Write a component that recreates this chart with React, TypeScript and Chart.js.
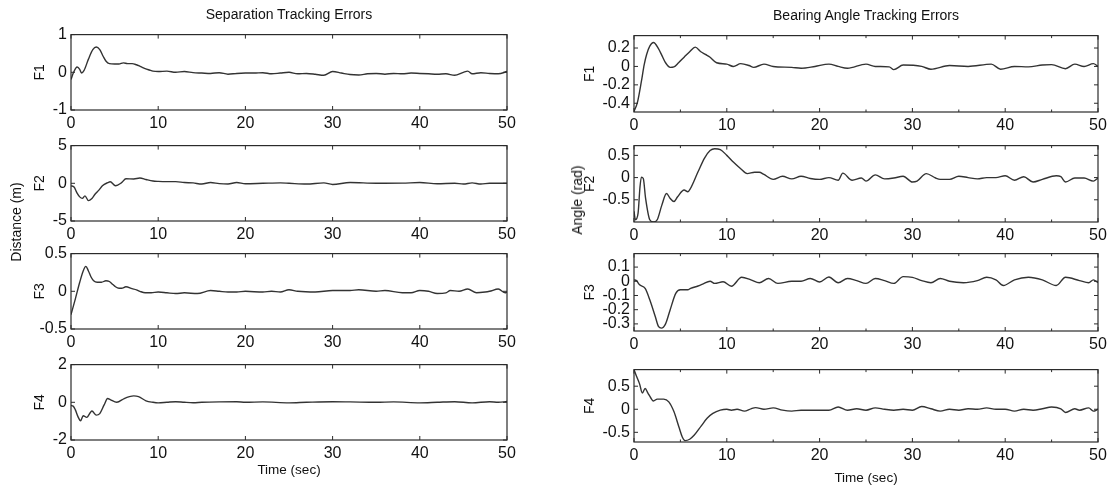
import React, { useEffect, useRef } from 'react';
import { Chart, registerables } from 'chart.js';

Chart.register(...registerables);

type Pt = [number, number];

const FONT = "'Liberation Sans', Arial, Helvetica, sans-serif";

// time axis ticks
const timeTicks = [0, 10, 20, 30, 40, 50];
const minorTimeTicks = [5, 15, 25, 35, 45];

// Separation tracking errors [time, value]
const sepF1: Pt[] = [[0,-0.19],[0.3,0.0],[0.7,0.14],[1.0,0.08],[1.2,-0.02],[1.5,0.05],[2.0,0.35],[2.5,0.6],[2.9,0.67],[3.3,0.6],[3.7,0.42],[4.0,0.3],[4.4,0.23],[5.0,0.22],[5.5,0.22],[6.0,0.25],[6.5,0.23],[7.0,0.23],[7.5,0.2],[8.0,0.15],[8.5,0.1],[9.0,0.06],[9.4,0.03],[10,0.02],[11,0.03],[12,0.0],[13,0.02],[14,-0.01],[15,-0.02],[16,-0.03],[17,-0.01],[18,-0.05],[19,-0.03],[20,-0.02],[21,-0.02],[22,-0.01],[23,-0.04],[24,-0.02],[25,0.0],[26,-0.04],[27,-0.03],[28,-0.05],[29,-0.08],[30,0.02],[31,-0.02],[32,-0.06],[33,-0.07],[34,-0.04],[35,-0.03],[36,-0.05],[37,-0.03],[38,-0.04],[39,-0.02],[40,-0.03],[41,-0.04],[42,-0.05],[43,-0.04],[44,-0.08],[45,0.0],[45.5,0.03],[46,-0.04],[47,-0.01],[48,-0.03],[49,-0.04],[50,0.02]];
const sepF2: Pt[] = [[0,-0.33],[0.35,-0.5],[0.7,-1.3],[1.0,-1.8],[1.3,-2.0],[1.6,-1.67],[2.0,-2.3],[2.4,-2.0],[2.75,-1.46],[3.2,-0.9],[3.6,-0.33],[4.2,0.08],[4.5,0.2],[5.1,-0.33],[5.8,0.08],[6.3,0.6],[7.2,0.58],[7.9,0.7],[8.6,0.5],[9.4,0.3],[10,0.25],[11,0.22],[12,0.22],[13,0.1],[14,0.05],[15,-0.1],[16,0.1],[17,-0.05],[18,-0.1],[19,0.1],[20,-0.05],[22,0],[24,0.05],[25,0],[27,-0.1],[29,0.05],[30,-0.15],[32,0.1],[35,0],[38,0.02],[40,0.1],[42,-0.05],[44,0],[45,-0.1],[46,0.05],[47,-0.1],[48,0],[50,0]];
const sepF3: Pt[] = [[0,-0.31],[0.5,-0.1],[1.0,0.12],[1.4,0.27],[1.7,0.33],[2.0,0.27],[2.3,0.19],[2.6,0.14],[3.0,0.12],[3.5,0.12],[4.0,0.14],[4.4,0.13],[4.8,0.09],[5.1,0.06],[5.5,0.04],[5.8,0.04],[6.3,0.06],[7.0,0.035],[7.5,0.02],[7.9,0.0],[8.5,-0.02],[9.2,-0.02],[10,-0.01],[11,-0.02],[12,-0.03],[13,-0.02],[14.5,-0.03],[16,0.01],[17,0.0],[18,-0.01],[19,-0.01],[20,0.0],[22,-0.01],[23,0.0],[24,-0.01],[25,0.02],[26,0.0],[28,-0.01],[30,0.01],[32,0.01],[33,0.02],[35,0.0],[36,0.01],[38,-0.02],[39,-0.02],[40,0.01],[41,0.0],[42,-0.03],[43,-0.02],[43.5,0.01],[44.5,0.0],[45.5,0.03],[46.5,-0.02],[47.5,-0.01],[48,0.0],[49,0.03],[49.8,-0.02],[50,-0.01]];
const sepF4: Pt[] = [[0,-0.17],[0.25,-0.2],[0.5,-0.4],[0.8,-0.76],[1.1,-0.98],[1.4,-0.71],[1.8,-0.8],[2.4,-0.46],[2.9,-0.68],[3.3,-0.6],[3.8,-0.14],[4.2,0.2],[4.5,0.14],[5.25,0.0],[6.1,0.2],[6.7,0.3],[7.2,0.34],[7.75,0.3],[8.6,0.08],[9.4,0.0],[10,-0.03],[11,0.0],[12,0.03],[13,0.0],[14,-0.02],[15,0.0],[17,0.02],[19,0.03],[20,0.0],[22,0.02],[25,-0.03],[27,0.0],[30,0.03],[32,0.02],[35,0.0],[37,0.02],[40,-0.03],[42,0.0],[44,0.03],[46,-0.03],[48,0.03],[49,0.0],[50,0.04]];

// Bearing angle tracking errors [time, value]
const bearF1: Pt[] = [[0,-0.49],[0.37,-0.39],[0.8,-0.16],[1.1,0.02],[1.36,0.13],[1.7,0.22],[2.1,0.26],[2.65,0.19],[3.0,0.12],[3.4,0.04],[3.9,-0.01],[4.3,-0.005],[4.8,0.04],[5.4,0.1],[6.0,0.16],[6.6,0.21],[7.2,0.16],[7.7,0.13],[8.2,0.1],[8.9,0.04],[10,0.025],[10.7,0.0],[11.5,0.03],[12.4,0.01],[12.9,-0.01],[14,0.025],[15,0.0],[17,-0.01],[18,-0.02],[19.5,0.0],[21,0.025],[22,0.0],[23,-0.02],[25,0.025],[26,0.0],[27.5,-0.005],[28,-0.035],[29,0.015],[31,0.0],[32,-0.03],[34,0.01],[36,0.0],[38.5,0.025],[39.5,-0.03],[41,0.0],[42.5,-0.005],[44,0.015],[45,0.02],[46.5,-0.025],[47.5,0.025],[48.5,0.0],[49.5,0.03],[50,0.0]];
const bearF2: Pt[] = [[0,-0.76],[0.15,-0.95],[0.44,-0.8],[0.65,-0.2],[0.8,0.01],[1.0,-0.02],[1.25,-0.47],[1.7,-0.95],[2.1,-1.0],[2.5,-0.95],[3.0,-0.62],[3.5,-0.36],[3.9,-0.47],[4.3,-0.54],[4.7,-0.43],[5.4,-0.28],[5.8,-0.32],[6.1,-0.24],[6.9,0.13],[7.6,0.44],[8.2,0.61],[8.7,0.65],[9.3,0.63],[10,0.5],[10.7,0.35],[11.5,0.2],[12.2,0.09],[13,0.12],[13.5,0.12],[14,0.07],[15,-0.04],[16,0.03],[17,-0.03],[18,0.03],[19,-0.02],[20,-0.04],[21,0.0],[22,-0.06],[22.5,0.1],[23.5,-0.06],[24.5,-0.01],[25,-0.08],[26,0.06],[27,-0.03],[28,-0.01],[29,0.03],[30,-0.1],[30.5,-0.08],[31.5,0.09],[32.5,-0.01],[33,-0.04],[34,-0.04],[35,0.03],[36,0.0],[37,-0.03],[38,0.0],[39,0.0],[40,0.04],[41,-0.06],[42,0.02],[43,-0.1],[44,-0.04],[45.5,0.04],[46,0.02],[46.5,-0.1],[47.5,-0.01],[48.5,-0.01],[49.5,-0.08],[50,-0.01]];
const bearF3: Pt[] = [[0,0.01],[0.26,0.005],[0.6,-0.025],[1.2,-0.05],[1.7,-0.13],[2.3,-0.25],[2.65,-0.32],[2.95,-0.33],[3.4,-0.3],[3.9,-0.2],[4.5,-0.085],[5.0,-0.06],[5.8,-0.06],[6.1,-0.05],[6.9,-0.033],[7.4,-0.02],[8.2,0.0],[8.7,-0.015],[9.6,-0.003],[10.5,-0.035],[11.6,0.028],[12.6,0.01],[13.5,-0.01],[14.5,0.02],[15.5,-0.015],[17,0.0],[18,0.0],[19,0.02],[20,-0.005],[21,0.03],[22,-0.01],[23,0.02],[24,0.005],[25,-0.015],[26,0.02],[27,0.005],[28,-0.015],[29,0.033],[30,0.028],[31,0.005],[32,-0.01],[33,0.02],[34,0.0],[35.5,-0.01],[37,0.005],[38,0.028],[39,0.01],[39.8,-0.03],[41,0.01],[42.5,0.028],[44,0.01],[45.5,-0.03],[46.5,0.028],[48,0.005],[49,-0.01],[49.5,0.01],[50,-0.01]];
const bearF4: Pt[] = [[0,0.86],[0.26,0.72],[0.6,0.55],[0.9,0.35],[1.2,0.45],[1.5,0.35],[1.8,0.25],[2.1,0.18],[2.5,0.22],[3.2,0.22],[3.75,0.16],[4.3,-0.05],[4.85,-0.39],[5.2,-0.6],[5.5,-0.68],[6.0,-0.65],[6.5,-0.56],[7.25,-0.36],[7.9,-0.19],[8.5,-0.09],[9.3,-0.02],[10,0.0],[10.5,-0.02],[11.1,0.0],[11.9,-0.04],[12.6,0.01],[13.1,0.035],[14,0.0],[15,0.03],[16,-0.02],[17,-0.04],[18,-0.02],[19,-0.02],[20,-0.02],[21,-0.02],[22,0.05],[23,-0.02],[24,0.01],[25,-0.02],[26,0.03],[27,0.0],[28,-0.02],[29,0.0],[30,-0.02],[31,0.06],[32,0.01],[33,-0.04],[34,0.0],[35,-0.02],[36,0.01],[37,0.0],[38,0.03],[39,0.0],[40,0.0],[41,-0.04],[42,0.0],[43,-0.02],[44,0.01],[45,0.05],[46,0.01],[46.5,-0.07],[47.5,0.01],[48,-0.02],[49,0.03],[49.5,-0.04],[50,0.0]];

// y-axis tick labels
const sepTicksF1 = [-1, 0, 1];
const sepTicksF2 = [-5, 0, 5];
const sepTicksF3 = [-0.5, 0, 0.5];
const sepTicksF4 = [-2, 0, 2];
const bearTicksF1 = [-0.4, -0.2, 0, 0.2];
const bearTicksF2 = [-0.5, 0, 0.5];
const bearTicksF3 = [-0.3, -0.2, -0.1, 0, 0.1];
const bearTicksF4 = [-0.5, 0, 0.5];

const rowLabels = ['F1', 'F2', 'F3', 'F4'];

const boxTicks = {
  id: 'boxTicks',
  afterDatasetsDraw(chart: any, _args: any, opts: any) {
    const { ctx, chartArea } = chart;
    const { left, right, top, bottom } = chartArea;
    const xs = chart.scales.x;
    const ys = chart.scales.y;
    ctx.save();
    ctx.strokeStyle = '#2b2b2b';
    ctx.lineWidth = 1;
    ctx.beginPath();
    const major = 4;
    const minor = 2.5;
    (opts.xMajor || []).forEach((v: number) => {
      const p = xs.getPixelForValue(v);
      ctx.moveTo(p, bottom); ctx.lineTo(p, bottom - major);
      ctx.moveTo(p, top); ctx.lineTo(p, top + major);
    });
    (opts.xMinor || []).forEach((v: number) => {
      const p = xs.getPixelForValue(v);
      ctx.moveTo(p, bottom); ctx.lineTo(p, bottom - minor);
      ctx.moveTo(p, top); ctx.lineTo(p, top + minor);
    });
    (opts.yMajor || []).forEach((v: number) => {
      const p = ys.getPixelForValue(v);
      ctx.moveTo(left, p); ctx.lineTo(left + major, p);
      ctx.moveTo(right, p); ctx.lineTo(right - major, p);
    });
    ctx.stroke();
    ctx.lineWidth = 1.2;
    ctx.strokeRect(left, top, right - left, bottom - top);
    ctx.restore();
  },
};

interface SubProps {
  box: [number, number, number, number]; // left, top, width, height
  axisW: number;
  data: Pt[];
  yMin: number;
  yMax: number;
  yTicks: number[];
  label: string;
  minor: boolean;
}

const PAD_T = 12;
const PAD_R = 16;
const AXIS_H = 26;

function SubPlot({ box, axisW, data, yMin, yMax, yTicks, label, minor }: SubProps) {
  const ref = useRef<HTMLCanvasElement | null>(null);
  const [bl, bt, bw, bh] = box;
  const cw = axisW + bw + PAD_R;
  const ch = PAD_T + bh + AXIS_H;
  useEffect(() => {
    if (!ref.current) return;
    const chart = new Chart(ref.current, {
      type: 'line',
      data: {
        datasets: [
          {
            data: data.map(([x, y]) => ({ x, y })),
            borderColor: '#333333',
            borderWidth: 1.4,
            pointRadius: 0,
            cubicInterpolationMode: 'monotone',
            fill: false,
          },
        ],
      },
      options: {
        animation: false,
        responsive: false,
        devicePixelRatio: 1,
        events: [],
        layout: { padding: { left: 0, right: PAD_R, top: PAD_T, bottom: 0 } },
        plugins: {
          legend: { display: false },
          tooltip: { enabled: false },
          title: { display: false },
          // @ts-ignore
          boxTicks: { xMajor: timeTicks, xMinor: minor ? minorTimeTicks : [], yMajor: yTicks },
        },
        scales: {
          x: {
            type: 'linear',
            min: 0,
            max: 50,
            afterBuildTicks: (s: any) => {
              s.ticks = timeTicks.map((v) => ({ value: v }));
            },
            afterFit: (s: any) => {
              s.height = AXIS_H;
            },
            grid: { display: false, drawTicks: false },
            border: { display: false },
            ticks: {
              padding: 4,
              color: '#111',
              font: { family: FONT, size: 16 },
              maxRotation: 0,
              autoSkip: false,
              callback: (v: any) => String(v),
            },
          },
          y: {
            type: 'linear',
            min: yMin,
            max: yMax,
            afterBuildTicks: (s: any) => {
              s.ticks = yTicks.map((v) => ({ value: v }));
            },
            afterFit: (s: any) => {
              s.width = axisW;
            },
            grid: { display: false, drawTicks: false },
            border: { display: false },
            ticks: {
              padding: 4,
              color: '#111',
              font: { family: FONT, size: 16 },
              autoSkip: false,
              callback: (v: any) => String(v),
            },
            title: {
              display: true,
              text: label,
              color: '#111',
              font: { family: FONT, size: 14 },
              padding: { top: 0, bottom: 0 },
            },
          },
        },
      } as any,
      plugins: [boxTicks as any],
    });
    return () => chart.destroy();
  }, []);
  return (
    <canvas
      ref={ref}
      width={cw}
      height={ch}
      style={{ position: 'absolute', left: bl - axisW, top: bt - PAD_T, width: cw, height: ch }}
    />
  );
}

const textBase: React.CSSProperties = {
  position: 'absolute',
  fontFamily: FONT,
  color: '#111',
  whiteSpace: 'nowrap',
  transform: 'translate(-50%, -50%)',
  lineHeight: 1,
};

export default function App() {
  const leftX = 71;
  const leftW = 436;
  const rightX = 634;
  const rightW = 464;
  const leftRows: [number, number][] = [[33, 77], [144, 77], [252, 77], [363, 77]];
  const rightRows: [number, number][] = [[34, 78], [144, 78], [252, 79], [368, 74]];
  const sepData = [sepF1, sepF2, sepF3, sepF4];
  const sepTicks = [sepTicksF1, sepTicksF2, sepTicksF3, sepTicksF4];
  const sepRange: [number, number][] = [[-1, 1], [-5, 5], [-0.5, 0.5], [-2, 2]];
  const bearData = [bearF1, bearF2, bearF3, bearF4];
  const bearTicks = [bearTicksF1, bearTicksF2, bearTicksF3, bearTicksF4];
  const bearRange: [number, number][] = [[-0.495, 0.335], [-1.0, 0.72], [-0.35, 0.195], [-0.71, 0.86]];

  return (
    <div style={{ position: 'absolute', left: 0, top: 0, width: 1114, height: 489, background: '#fff', overflow: 'hidden' }}>
      {leftRows.map(([t, h], i) => (
        <SubPlot
          key={'s' + i}
          box={[leftX, t, leftW, h]}
          axisW={39}
          data={sepData[i]}
          yMin={sepRange[i][0]}
          yMax={sepRange[i][1]}
          yTicks={sepTicks[i]}
          label={rowLabels[i]}
          minor={false}
        />
      ))}
      {rightRows.map(([t, h], i) => (
        <SubPlot
          key={'b' + i}
          box={[rightX, t, rightW, h]}
          axisW={52}
          data={bearData[i]}
          yMin={bearRange[i][0]}
          yMax={bearRange[i][1]}
          yTicks={bearTicks[i]}
          label={rowLabels[i]}
          minor={true}
        />
      ))}
      <div style={{ ...textBase, left: 289, top: 14, fontSize: 14 }}>Separation Tracking Errors</div>
      <div style={{ ...textBase, left: 866, top: 15, fontSize: 14 }}>Bearing Angle Tracking Errors</div>
      <div style={{ ...textBase, left: 16, top: 222, fontSize: 14, transform: 'translate(-50%, -50%) rotate(-90deg)' }}>Distance (m)</div>
      <div style={{ ...textBase, left: 577, top: 200, fontSize: 14, transform: 'translate(-50%, -50%) rotate(-90deg)' }}>Angle (rad)</div>
      <div style={{ ...textBase, left: 289, top: 470, fontSize: 13.5 }}>Time (sec)</div>
      <div style={{ ...textBase, left: 866, top: 478, fontSize: 13.5 }}>Time (sec)</div>
    </div>
  );
}
